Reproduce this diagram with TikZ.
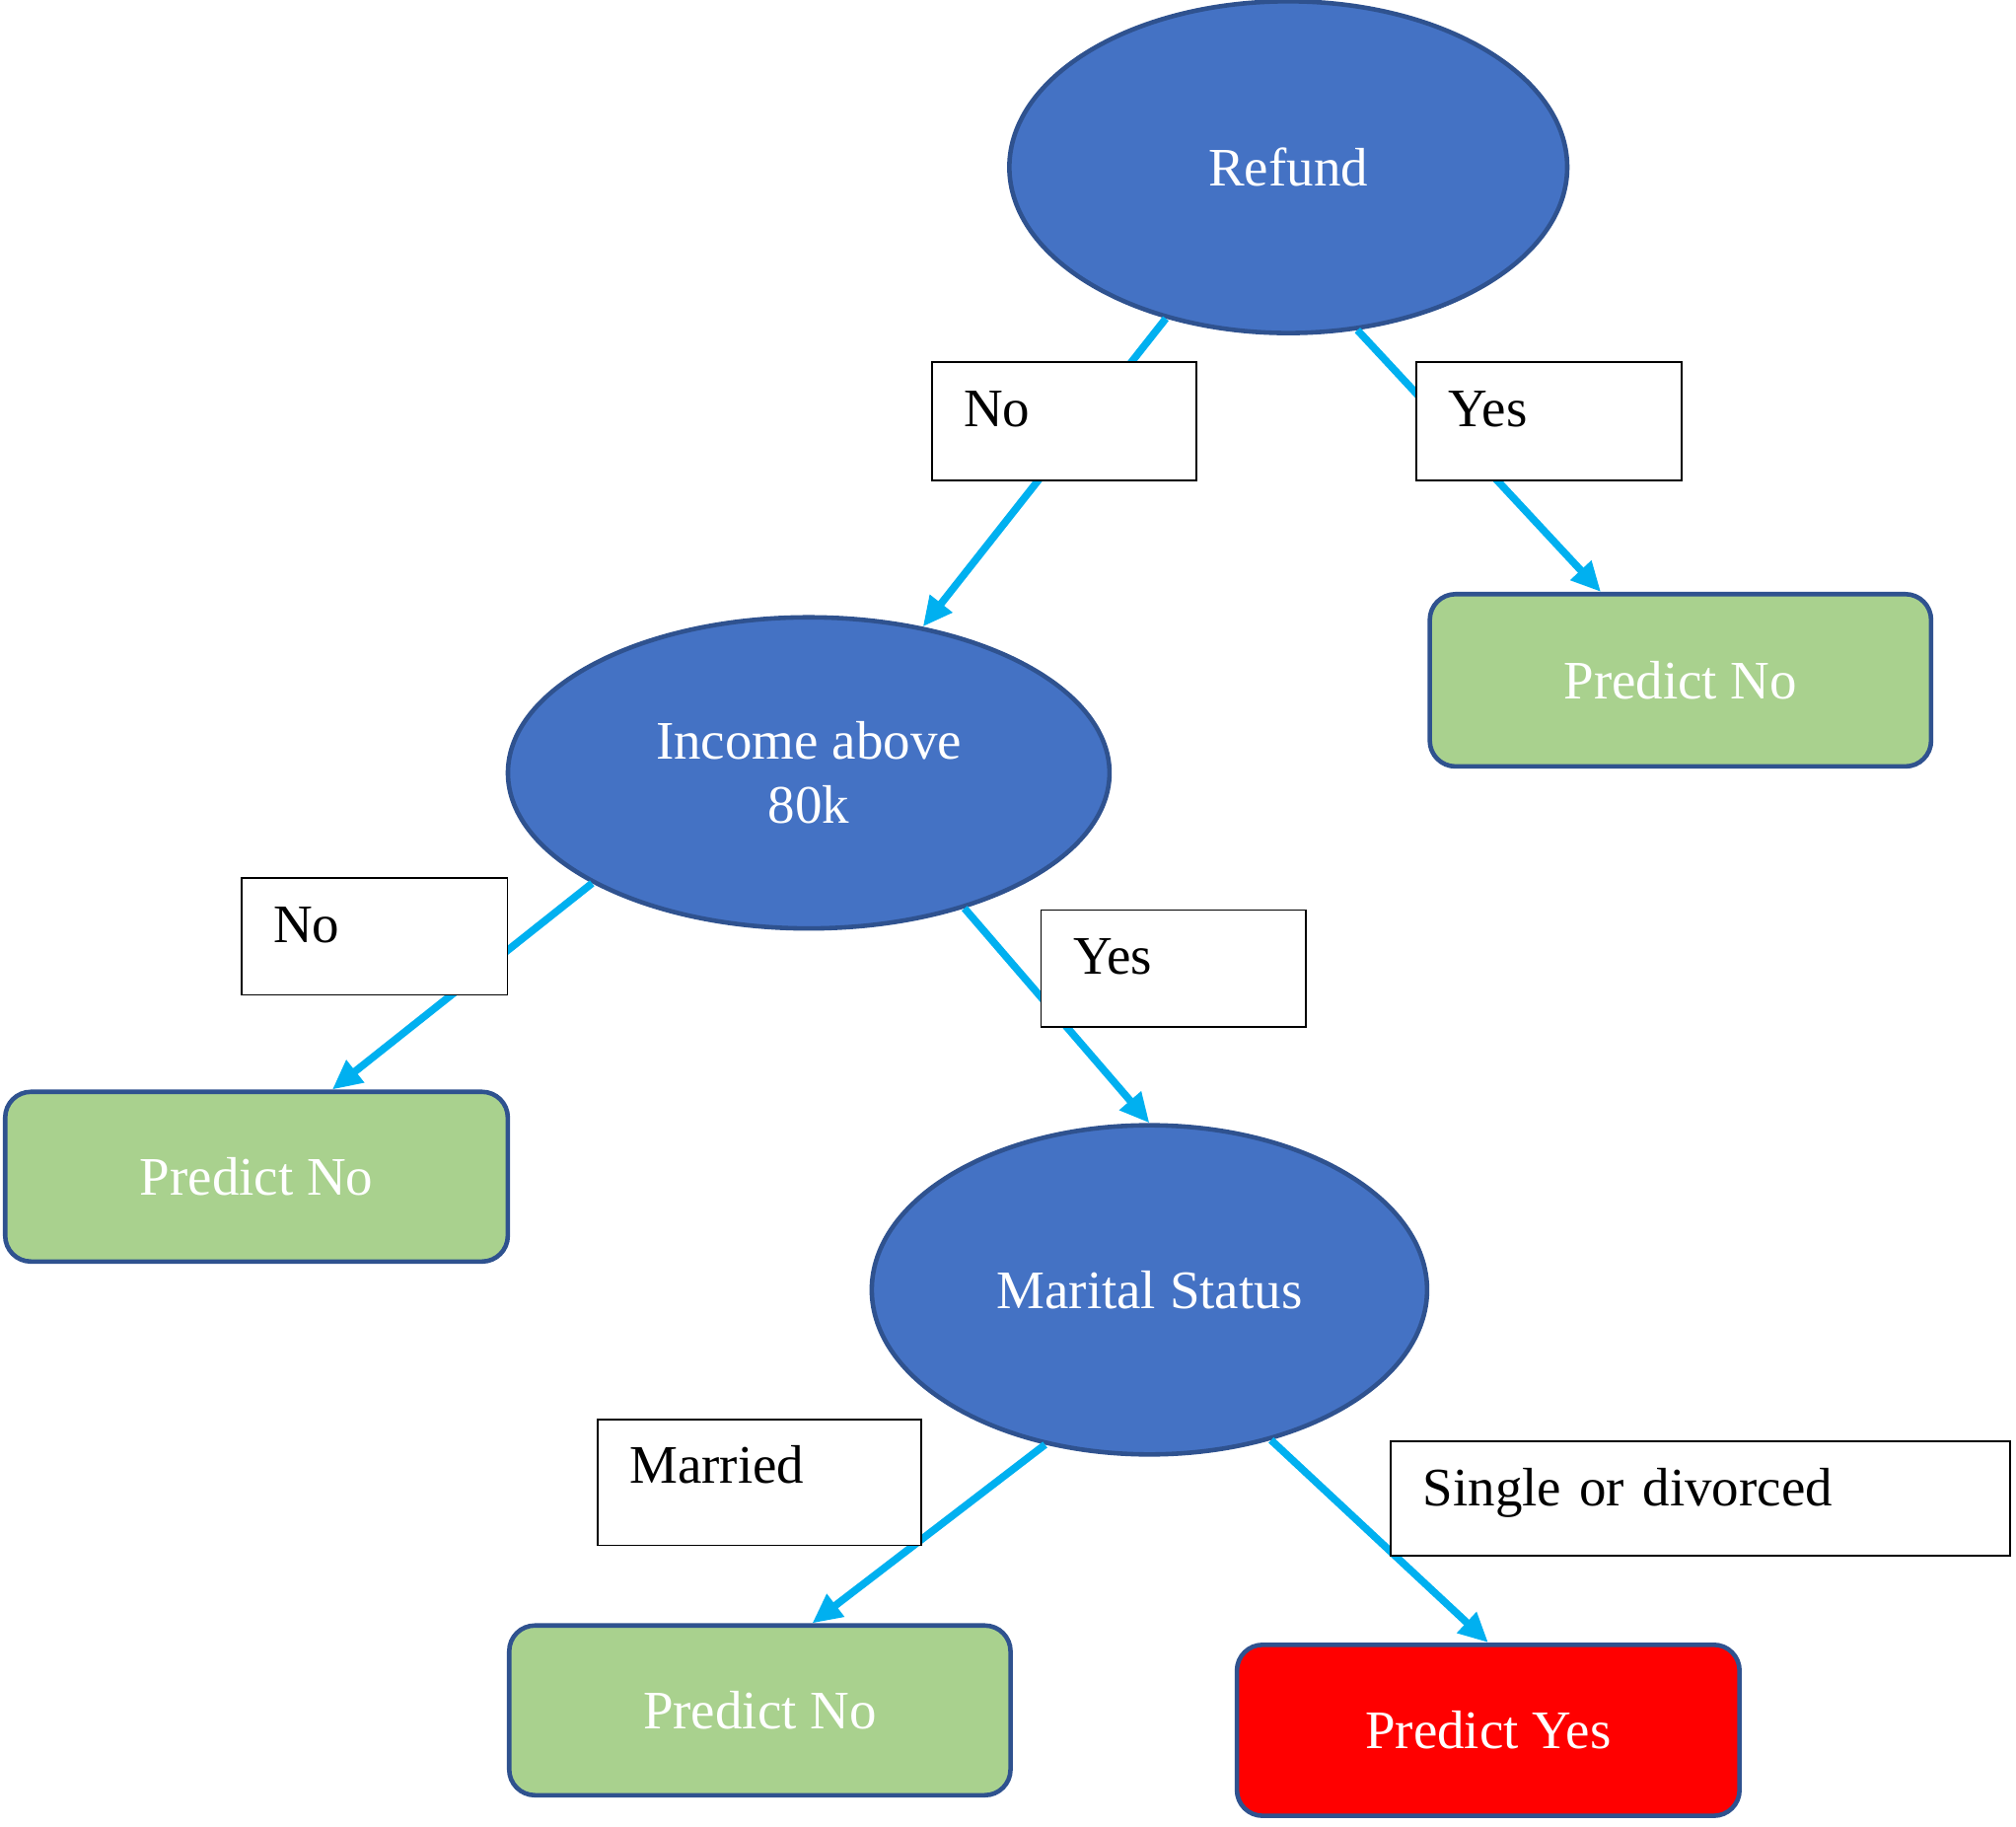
\documentclass[tikz,border=0pt]{standalone}
\usepackage{fontspec}
\setmainfont{Liberation Serif}
\usetikzlibrary{shapes.geometric,arrows.meta}
\definecolor{nodeblue}{HTML}{4472C4}
\definecolor{borderblue}{HTML}{2F528F}
\definecolor{leafgreen}{HTML}{A9D18E}
\definecolor{leafred}{HTML}{FF0000}
\definecolor{linkcyan}{HTML}{00B0F0}
\begin{document}
\begin{tikzpicture}[x=0.02cm,y=-0.02cm,
  decision/.style={ellipse, draw=borderblue, line width=2pt, fill=nodeblue, text=white,
    inner sep=0pt, font=\fontsize{24}{28.5}\selectfont, align=center},
  leaf/.style={rectangle, rounded corners=0.4cm, draw=borderblue, line width=2pt, text=white,
    inner sep=0pt, font=\fontsize{24}{28.5}\selectfont},
  tag/.style={rectangle, draw=black, line width=0.8pt, fill=white, anchor=north west,
    inner xsep=0.5cm, inner ysep=0pt, align=left, text height=1.0cm,
    font=\fontsize{24}{28.5}\selectfont},
  link/.style={draw=linkcyan, line width=3.3pt, -{Triangle[length=0.46cm,width=0.42cm]}}
]
\useasboundingbox (0,0) rectangle (1568,1420);

% decision nodes
\node[decision, minimum width=8.68cm, minimum height=5.16cm] (refund) at (1002,130) {Refund};
\node[decision, minimum width=9.36cm, minimum height=4.84cm] (income) at (629,601) {Income above\\80k};
\node[decision, minimum width=8.64cm, minimum height=5.12cm] (marital) at (894,1003) {Marital Status};

% leaves
\node[leaf, fill=leafgreen, minimum width=7.8cm, minimum height=2.68cm] (pr) at (1307,529) {Predict No};
\node[leaf, fill=leafgreen, minimum width=7.82cm, minimum height=2.64cm] (pl) at (199.5,915) {Predict No};
\node[leaf, fill=leafgreen, minimum width=7.8cm, minimum height=2.64cm] (pb) at (591,1330) {Predict No};
\node[leaf, fill=leafred, minimum width=7.82cm, minimum height=2.66cm] (py) at (1157.5,1345.5) {Predict Yes};

% connectors
\draw[link] (refund.231.5) -- (income.52.3);
\draw[link] (refund.293.5) -- (pr.132);
\draw[link] (income.207.7) -- (pl.49);
\draw[link] (income.319.5) -- (marital.north);
\draw[link] (marital.236.3) -- (pb.59.8);
\draw[link] (marital.309.1) -- (py.north);

% edge labels
\node[tag, text width=3.12cm, text depth=0.84cm] (tno1) at (724,281) {No};
\node[tag, text width=3.12cm, text depth=0.84cm] (tyes1) at (1101,281) {Yes};
\node[tag, text width=3.14cm, text depth=0.82cm] (tno2) at (187,682) {No};
\node[tag, text width=3.12cm, text depth=0.82cm] (tyes2) at (809,707) {Yes};
\node[tag, text width=4.04cm, text depth=0.96cm] (tmar) at (464,1103) {Married};
\node[tag, text width=8.64cm, text depth=0.78cm] (tsd) at (1081,1120) {Single or divorced};
\end{tikzpicture}
\end{document}
